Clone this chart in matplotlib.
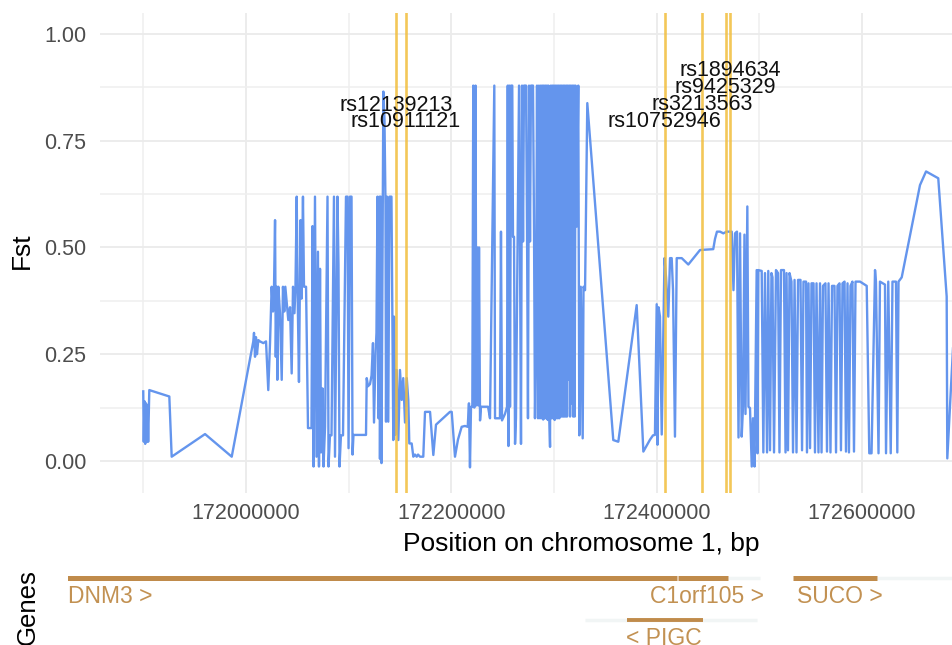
import matplotlib
matplotlib.use("Agg")
import matplotlib.pyplot as plt

plt.rcParams['font.family'] = ['Liberation Sans', 'DejaVu Sans']

# ---------------- data ----------------
# Fst along chromosome 1 (positions in kb)
fst_pos_kb = [
    171899.9, 171900.4, 171901.1, 171901.8, 171902.6, 171903.2, 171904.0, 171904.7, 171905.8,
    171925.3, 171927.6, 171960.1, 171986.1,
    172007.1, 172007.8, 172008.8, 172009.7, 172010.7, 172012.0, 172013.6, 172016.9, 172019.5,
    172021.7, 172023.4, 172025.0, 172026.3, 172027.3, 172028.3, 172029.0, 172029.9, 172030.5,
    172031.5, 172033.1, 172034.8, 172036.0, 172037.3, 172038.3, 172039.7, 172041.2, 172042.9,
    172044.5, 172045.8, 172047.2, 172048.2, 172049.4, 172050.2, 172051.6, 172053.1, 172054.1,
    172055.5, 172056.5, 172058.5, 172060.4, 172063.8, 172064.8, 172065.8, 172067.2, 172068.7,
    172070.1, 172071.1, 172072.1, 172073.1, 172074.5, 172075.5, 172077.0, 172079.4, 172080.4,
    172081.8, 172083.3, 172085.7, 172086.7, 172089.1, 172090.1, 172091.1, 172092.5, 172094.5,
    172097.4, 172098.9, 172099.9, 172101.3, 172102.8, 172103.8, 172104.7,
    172116.9, 172117.6, 172118.9, 172120.8, 172122.3, 172123.7, 172124.7, 172126.2, 172127.1,
    172128.1, 172129.1, 172130.1, 172130.5, 172131.3, 172132.0, 172133.8, 172134.9, 172135.9,
    172136.4, 172137.4, 172138.6, 172139.8, 172141.7, 172143.5, 172144.2, 172145.4, 172146.8,
    172148.4, 172150.0, 172151.7, 172153.2, 172154.9, 172156.6, 172158.1, 172159.1, 172161.4,
    172163.0, 172164.6, 172166.3, 172167.6, 172169.5, 172171.2, 172172.7, 172174.4, 172179.3,
    172182.5, 172185.1, 172198.7, 172200.4, 172203.6,
    172206.5, 172210.1, 172213.3, 172216.0, 172217.2, 172218.2, 172219.2, 172220.5, 172221.4,
    172222.4, 172223.6, 172224.4, 172225.3, 172226.3, 172227.0, 172228.0, 172228.9, 172232.8,
    172235.8, 172237.7, 172241.9, 172242.6, 172245.5, 172247.4, 172248.4, 172249.4, 172252.3,
    172254.3, 172255.0, 172255.7, 172256.5, 172257.2, 172258.2, 172259.4, 172260.1, 172261.1,
    172262.1, 172263.0, 172266.0, 172266.9, 172267.9, 172268.9, 172269.9, 172270.8, 172272.8,
    172273.8, 172274.7, 172275.7, 172276.7, 172277.6, 172279.6, 172280.6, 172281.5, 172282.5,
    172283.5, 172284.5, 172285.4, 172286.4,
    172287.2, 172288.0, 172288.7, 172289.5, 172290.2, 172291.0, 172291.7, 172292.5, 172293.2,
    172294.0, 172294.7, 172295.5, 172296.2, 172297.0, 172297.7, 172298.5, 172299.2, 172300.0,
    172300.7, 172301.5, 172302.2, 172303.0, 172303.7, 172304.5, 172305.2, 172306.0, 172306.7,
    172307.5, 172308.2, 172309.0, 172309.7, 172310.5, 172311.2, 172312.0, 172312.7, 172313.5,
    172314.2, 172315.0, 172315.7, 172316.5, 172317.2, 172318.0, 172318.7, 172319.5, 172320.2,
    172321.0, 172322.2, 172323.7, 172324.7, 172326.1, 172328.0, 172328.8, 172330.3, 172332.5,
    172357.8, 172362.7, 172380.6, 172387.1, 172393.6, 172396.5, 172398.4, 172400.1, 172400.9,
    172401.9, 172403.3, 172405.0, 172407.7, 172409.2, 172411.4, 172413.1, 172414.7, 172416.0,
    172417.9, 172419.6, 172424.5, 172430.9, 172442.3, 172455.2, 172456.9, 172458.8, 172461.8,
    172465.0, 172468.3, 172473.2, 172474.9, 172476.4, 172478.3, 172479.8, 172481.3, 172482.9,
    172484.2, 172485.6, 172486.6, 172488.4, 172489.5, 172491.0, 172492.7, 172493.9, 172495.4,
    172497.5, 172498.3, 172499.1, 172502.4, 172504.0, 172505.6,
    172507.6, 172508.8, 172510.5, 172511.9, 172512.9, 172514.4, 172516.3, 172518.3, 172519.7,
    172521.2, 172524.1, 172525.6, 172526.6, 172528.0, 172529.5, 172531.4, 172532.9, 172534.4,
    172536.3, 172537.8, 172540.2, 172541.7, 172543.1, 172545.6, 172546.5, 172548.0, 172549.5,
    172550.9, 172552.9, 172554.3, 172555.8, 172557.7, 172559.2, 172560.7, 172562.1, 172564.5,
    172566.0, 172567.5, 172569.4, 172570.9, 172573.3, 172574.8, 172576.2, 172578.2, 172579.6,
    172581.1, 172583.1, 172584.5, 172586.0, 172587.4, 172588.9, 172590.8, 172592.3, 172593.8,
    172596.2, 172598.2, 172604.7, 172607.2, 172609.4, 172612.8, 172613.7, 172616.2, 172617.6,
    172622.5, 172623.5, 172625.7, 172628.1, 172629.8, 172633.2, 172634.5, 172635.7, 172638.8,
    172656.6, 172662.5, 172674.4, 172682.6, 172683.2, 172691.7,
]
fst_val = [
    0.163, 0.045, 0.140, 0.040, 0.135, 0.045, 0.130, 0.045, 0.166,
    0.151, 0.010, 0.063, 0.010,
    0.280, 0.300, 0.244, 0.290, 0.250, 0.283, 0.280, 0.276, 0.280,
    0.166, 0.276, 0.408, 0.350, 0.408, 0.564, 0.244, 0.408, 0.190,
    0.408, 0.346, 0.190, 0.408, 0.350, 0.408, 0.370, 0.330, 0.360,
    0.205, 0.408, 0.346, 0.408, 0.619, 0.408, 0.185, 0.564, 0.380,
    0.619, 0.408, 0.408, 0.077, 0.077, 0.550, -0.013, 0.619, 0.010,
    0.490, -0.013, 0.450, 0.020, 0.170, -0.013, 0.080, 0.619, -0.013,
    0.060, 0.060, 0.619, 0.010, 0.619, 0.460, -0.013, 0.060, 0.060,
    0.619, 0.619, 0.030, 0.619, 0.619, 0.015, 0.061,
    0.061, 0.194, 0.175, 0.180, 0.200, 0.276, 0.090, 0.250, 0.300,
    0.619, 0.100, 0.619, 0.005, 0.619, -0.005, 0.865, 0.800, 0.600,
    0.092, 0.619, 0.092, 0.619, 0.619, 0.049, 0.338, 0.061, 0.213,
    0.049, 0.213, 0.143, 0.194, 0.090, 0.194, 0.143, 0.041, 0.041,
    0.010, 0.015, 0.010, 0.015, 0.010, 0.010, 0.010, 0.115, 0.115,
    0.014, 0.085, 0.115, 0.115, 0.010,
    0.050, 0.080, 0.082, 0.080, 0.135, -0.015, 0.127, 0.127, 0.879,
    0.125, 0.879, 0.130, 0.500, 0.130, 0.500, 0.095, 0.127, 0.127,
    0.127, 0.100, 0.879, 0.100, 0.100, 0.100, 0.537, 0.095, 0.110,
    0.127, 0.879, 0.035, 0.879, 0.127, 0.879, 0.879, 0.525, 0.525,
    0.040, 0.100, 0.879, 0.514, 0.040, 0.879, 0.514, 0.879, 0.879,
    0.537, 0.100, 0.879, 0.514, 0.879, 0.879, 0.537, 0.100, 0.283,
    0.879, 0.100, 0.879, 0.100,
    0.879, 0.100, 0.879, 0.097, 0.879, 0.100, 0.879, 0.100, 0.879,
    0.096, 0.879, 0.100, 0.033, 0.879, 0.100, 0.879, 0.100, 0.879,
    0.096, 0.879, 0.100, 0.879, 0.100, 0.879, 0.100, 0.879, 0.104,
    0.879, 0.104, 0.879, 0.104, 0.879, 0.104, 0.879, 0.104, 0.879,
    0.190, 0.879, 0.104, 0.879, 0.135, 0.879, 0.104, 0.879, 0.104,
    0.879, 0.549, 0.879, 0.060, 0.408, 0.053, 0.408, 0.400, 0.838,
    0.049, 0.045, 0.365, 0.022, 0.050, 0.060, 0.061, 0.367, 0.038,
    0.360, 0.338, 0.062, 0.475, 0.430, 0.338, 0.475, 0.475, 0.400,
    0.057, 0.475, 0.475, 0.460, 0.494, 0.496, 0.520, 0.537, 0.537,
    0.533, 0.537, 0.537, 0.400, 0.533, 0.537, 0.055, 0.533, 0.057,
    0.127, 0.530, 0.110, 0.596, 0.127, 0.124, -0.013, 0.100, -0.013,
    0.447, 0.018, 0.447, 0.445, 0.020, 0.440,
    0.020, 0.445, 0.025, 0.440, 0.430, 0.020, 0.447, 0.440, 0.020,
    0.447, 0.447, 0.020, 0.440, 0.025, 0.440, 0.420, 0.020, 0.424,
    0.020, 0.424, 0.424, 0.025, 0.420, 0.420, 0.020, 0.416, 0.030,
    0.416, 0.416, 0.020, 0.416, 0.020, 0.416, 0.020, 0.410, 0.416,
    0.022, 0.416, 0.020, 0.410, 0.410, 0.020, 0.410, 0.416, 0.025,
    0.416, 0.420, 0.022, 0.416, 0.020, 0.410, 0.420, 0.022, 0.420,
    0.420, 0.420, 0.410, 0.018, 0.018, 0.447, 0.420, 0.018, 0.420,
    0.413, 0.018, 0.420, 0.018, 0.420, 0.420, 0.020, 0.420, 0.430,
    0.646, 0.678, 0.662, 0.385, 0.006, 0.400,
]

# SNPs of interest
snp_names = ['rs12139213', 'rs10911121', 'rs10752946', 'rs3213563', 'rs9425329', 'rs1894634']
snp_pos_kb = [172146.1, 172155.9, 172407.9, 172444.5, 172467.3, 172471.5]
snp_label_y = [0.820, 0.783, 0.783, 0.822, 0.862, 0.902]

# Gene track (kb)
gene_names = ['DNM3', 'C1orf105', 'SUCO', 'PIGC']
gene_start_kb = [171810.0, 172420.9, 172532.9, 172371.2]
gene_end_kb = [172419.9, 172469.6, 172614.7, 172445.2]
gene_row = [0, 0, 0, 1]
gene_label = ['DNM3 >', 'C1orf105 >', 'SUCO >', '< PIGC']
gene_label_kb = [171826.6, 172393.6, 172536.8, 172370.2]
faint_start_kb = [172469.6, 172614.7, 172330.3]
faint_end_kb = [172500.7, 172800.0, 172497.5]
faint_row = [0, 0, 1]

x_ticks = [172000000, 172200000, 172400000, 172600000]
x_minor = [171900000, 172100000, 172300000, 172500000, 172700000]
y_ticks = [0.0, 0.25, 0.50, 0.75, 1.00]
y_minor = [0.125, 0.375, 0.625, 0.875]

# ---------------- figure ----------------
W, H = 953, 645
fig = plt.figure(figsize=(W / 100, H / 100), dpi=100)

def px2kb(p):
    return 172000.0 + (p - 246) * 0.9742

ax = fig.add_axes([100 / W, 1 - 493 / H, 962 / W, 480 / H])
ax.set_xlim(px2kb(100) * 1000, px2kb(1062) * 1000)
ax.set_ylim(-0.075, 1.049)
for s in ax.spines.values():
    s.set_visible(False)
ax.set_xticks(x_ticks)
ax.set_xticklabels([str(v) for v in x_ticks])
ax.set_xticks(x_minor, minor=True)
ax.set_yticks(y_ticks)
ax.set_yticklabels(['%.2f' % v for v in y_ticks])
ax.set_yticks(y_minor, minor=True)
ax.grid(which='major', color='#EBEBEB', lw=1.3)
ax.grid(which='minor', color='#EFEFEF', lw=1.1)
ax.set_axisbelow(True)
ax.tick_params(which='both', length=0, labelsize=15.5, labelcolor='#4D4D4D')
ax.tick_params(axis='x', pad=7)
ax.tick_params(axis='y', pad=10)

pos_bp = [p * 1000 for p in fst_pos_kb]
ax.plot(pos_bp, fst_val, color='#6495ED', lw=1.7, zorder=2)

for name, p, ly in zip(snp_names, snp_pos_kb, snp_label_y):
    ax.axvline(p * 1000, color='#F2BE3C', lw=1.9, alpha=0.85, zorder=3)
    ax.text(p * 1000, ly, name, ha='center', va='baseline', fontsize=15.5,
            color='#111111', zorder=4)

ax.set_xlabel('Position on chromosome 1, bp', fontsize=19, color='black')
ax.xaxis.set_label_coords(0.5, -(544 - 493) / 480)
ax.xaxis.label.set_va('center')
ax.set_ylabel('Fst', fontsize=19, color='black')
ax.yaxis.set_label_coords((22 - 100) / 962, (493 - 251) / 480)
ax.yaxis.label.set_va('center')

# gene track
gax = fig.add_axes([68 / W, 0, (1062 - 68) / W, 85 / H])
gax.set_xlim(px2kb(68) * 1000, px2kb(1062) * 1000)
gax.set_ylim(-1.595, 0.4286)
gax.axis('off')
gene_col = '#C08B4B'
for fs, fe, fr in zip(faint_start_kb, faint_end_kb, faint_row):
    gax.plot([fs * 1000, fe * 1000], [-fr, -fr], color='#F1F5F5', lw=2.5,
             solid_capstyle='butt', zorder=1)
for gs, ge, gr in zip(gene_start_kb, gene_end_kb, gene_row):
    gax.plot([gs * 1000, ge * 1000], [-gr, -gr], color=gene_col,
             lw=3.6 if gr == 0 else 2.8, solid_capstyle='butt', zorder=2)
for lbl, lx, gr in zip(gene_label, gene_label_kb, gene_row):
    gax.text(lx * 1000, -gr - 0.595, lbl, ha='left', va='baseline',
             fontsize=16.5, color='#C29152')

fig.text(28 / W, 1 - 607 / H, 'Genes', rotation=90, ha='center', va='center',
         fontsize=18.5, color='black')

fig.savefig('out.png', dpi=100)
